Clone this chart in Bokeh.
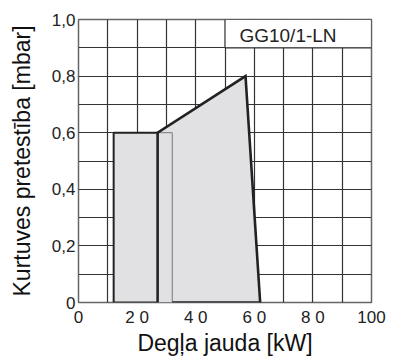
from bokeh.plotting import figure
from bokeh.models import FixedTicker, LinearAxis
from bokeh.core.properties import value
from bokeh.embed import file_html
from bokeh.resources import INLINE

# ---- data ----
area_kw = [12, 12, 27, 57, 62]
area_mbar = [0, 0.6, 0.6, 0.8, 0]
outline_kw = [27, 27, 57, 62, 32]
outline_mbar = [0, 0.6, 0.8, 0, 0]
stage1_kw = [27, 12, 12, 27]
stage1_mbar = [0, 0, 0.6, 0.6]
stage2_left, stage2_right, stage2_mbar = 27, 32, 0.6
x_ticks = [0, 20, 40, 60, 80, 100]
x_tick_labels = ["0", "2 0", "4 0", "6 0", "8 0", "100"]
y_ticks = [0, 0.2, 0.4, 0.6, 0.8, 1.0]
y_tick_labels = ["0", "0,2", "0,4", "0,6", "0,8", "1,0"]
x_grid = list(range(0, 101, 10))
y_grid = [i / 10 for i in range(11)]
model_name = "GG10/1-LN"
x_title = "Degļa jauda [kW]"
y_title = "Kurtuves pretestība [mbar]"

FONT = "Liberation Sans"
GRID = "#333333"

p = figure(width=393, height=358, x_range=(0, 100), y_range=(0, 1),
           output_backend="svg", toolbar_location=None,
           min_border_left=78, min_border_right=22, min_border_top=19,
           min_border_bottom=49)
p.background_fill_color = "white"
p.border_fill_color = "white"
p.outline_line_color = "#666666"
p.outline_line_width = 1.5

p.xgrid.ticker = FixedTicker(ticks=x_grid)
p.ygrid.ticker = FixedTicker(ticks=y_grid)
for g in (p.xgrid, p.ygrid):
    g.grid_line_color = GRID
    g.grid_line_width = 1.2
    g.grid_line_alpha = 1.0

p.xaxis.ticker = FixedTicker(ticks=x_ticks)
p.xaxis.major_label_overrides = {t: l for t, l in zip(x_ticks, x_tick_labels)}
p.yaxis.ticker = FixedTicker(ticks=y_ticks)
p.yaxis.major_label_overrides = {t: l for t, l in zip(y_ticks, y_tick_labels)}

# secondary bottom axis only carrying the x title (placed to the right)
title_axis = LinearAxis(ticker=FixedTicker(ticks=[]), bounds=(37.4, 100),
                        axis_label=x_title, axis_label_standoff=0)
p.add_layout(title_axis, "below")

for ax in (p.xaxis + p.yaxis):
    ax.axis_line_color = None
    ax.major_tick_line_color = None
    ax.minor_tick_line_color = None
    ax.major_tick_out = 0
    ax.major_tick_in = 0
    ax.minor_tick_out = 0
    ax.minor_tick_in = 0
    ax.major_label_text_font = FONT
    ax.major_label_text_font_size = "17px"
    ax.major_label_text_color = "#222222"
    ax.axis_label_text_font = FONT
    ax.axis_label_text_font_size = "23px"
    ax.axis_label_text_font_style = "normal"
    ax.axis_label_text_color = "#111111"
p.xaxis[0].major_label_standoff = 5
title_axis.major_label_standoff = 0
p.yaxis.major_label_standoff = 3
p.yaxis.axis_label = y_title
p.yaxis.axis_label_standoff = 14

# shaded area
p.patch(area_kw, area_mbar, fill_color="#e1e1e3", line_color=None)
# stage 2 thin rectangle
p.quad(left=[stage2_left], right=[stage2_right], bottom=[0], top=[stage2_mbar],
       fill_color=None, line_color="#777777", line_width=1)
# stage 1 outline
p.line(stage1_kw, stage1_mbar, line_color="#222222", line_width=2)
# main outline
p.line(outline_kw, outline_mbar, line_color="#222222", line_width=2.6,
       line_join="miter")

# model label box
p.quad(left=[50], right=[100], bottom=[0.9], top=[1.0], fill_color="white",
       line_color=GRID, line_width=1.2)
p.text(x=[71.5], y=[0.945], text=[model_name], text_align="center",
       text_baseline="middle", text_font=value(FONT), text_font_size="19px",
       text_color="#222222")

open("out.html", "w").write(file_html(p, INLINE))
